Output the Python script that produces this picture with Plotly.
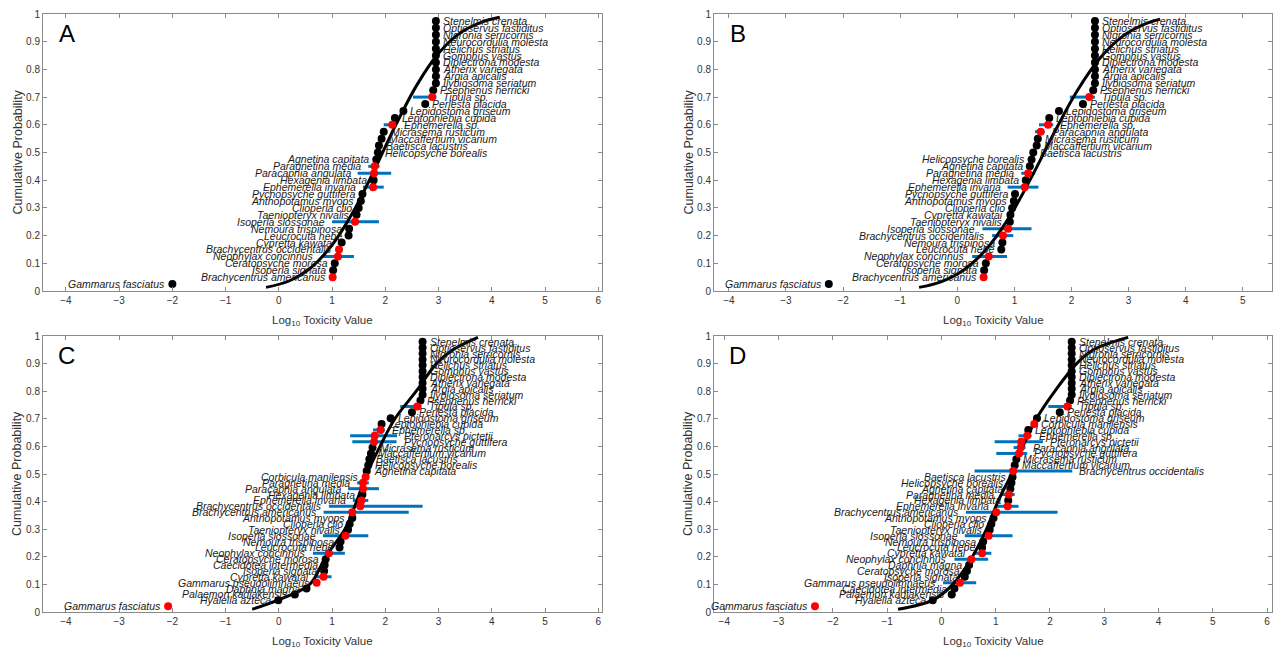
import plotly.graph_objects as go

# ---------------- Panel A ----------------
A_SPECIES = [
    "Gammarus fasciatus", "Brachycentrus americanus", "Isoperla signata", "Ceratopsyche morosa",
    "Neophylax concinnus", "Brachycentrus occidentalis", "Cypretta kawatai", "Leucrocuta hebe",
    "Nemoura trispinosa", "Isoperla slossonae", "Taeniopteryx nivalis", "Clioperla clio",
    "Anthopotamus myops", "Pycnopsyche guttifera", "Ephemerella invaria", "Hexagenia limbata",
    "Paracapnia angulata", "Paragnetina media", "Agnetina capitata", "Helicopsyche borealis",
    "Baetisca lacustris", "Maccaffertium vicarium", "Micrasema rusticum", "Ephemerella sp.",
    "Leptophlebia cupida", "Lepidostoma griseum", "Perlesta placida", "Tipula sp.",
    "Psephenus herricki", "Ilybiosoma seriatum", "Argia apicalis", "Atherix variegata",
    "Diplectrona modesta", "Gomphus vastus", "Helichus striatus", "Neurocordulia molesta",
    "Nigronia serricornis", "Optioservus fastiditus", "Stenelmis crenata",
]
A_LOG_TOX = [
    -2.00, 1.01, 1.02, 1.05, 1.11, 1.13, 1.18, 1.31, 1.32, 1.43, 1.46, 1.50, 1.54, 1.57,
    1.77, 1.78, 1.79, 1.80, 1.83, 1.86, 1.88, 1.93, 1.97, 2.13, 2.18, 2.34, 2.75, 2.88,
    2.90, 2.95, 2.95, 2.95, 2.95, 2.95, 2.95, 2.95, 2.95, 2.95, 2.95,
]
A_RED = ["Brachycentrus americanus", "Neophylax concinnus", "Brachycentrus occidentalis",
         "Isoperla slossonae", "Ephemerella invaria", "Paracapnia angulata",
         "Paragnetina media", "Ephemerella sp.", "Tipula sp."]
A_CI = {
    "Neophylax concinnus": (0.80, 1.41),
    "Isoperla slossonae": (1.00, 1.88),
    "Ephemerella invaria": (1.58, 1.97),
    "Paracapnia angulata": (1.48, 2.11),
    "Paragnetina media": (1.68, 1.89),
    "Ephemerella sp.": (1.97, 2.21),
    "Tipula sp.": (2.52, 2.96),
}
A_FIT_X = [-0.24, 0.2, 0.6, 1.0, 1.4, 1.8, 2.2, 2.6, 3.0, 3.4, 3.8, 4.15]
A_FIT_P = [0.013, 0.037, 0.084, 0.166, 0.287, 0.439, 0.601, 0.746, 0.858, 0.931, 0.970, 0.988]

# ---------------- Panel B ----------------
B_SPECIES = [
    "Gammarus fasciatus", "Brachycentrus americanus", "Isoperla signata", "Ceratopsyche morosa",
    "Neophylax concinnus", "Leucrocuta hebe", "Nemoura trispinosa", "Brachycentrus occidentalis",
    "Isoperla slossonae", "Taeniopteryx nivalis", "Cypretta kawatai", "Clioperla clio",
    "Anthopotamus myops", "Pycnopsyche guttifera", "Ephemerella invaria", "Hexagenia limbata",
    "Paragnetina media", "Agnetina capitata", "Helicopsyche borealis", "Baetisca lacustris",
    "Maccaffertium vicarium", "Micrasema rusticum", "Paracapnia angulata", "Ephemerella sp.",
    "Leptophlebia cupida", "Lepidostoma griseum", "Perlesta placida", "Tipula sp.",
    "Psephenus herricki", "Ilybiosoma seriatum", "Argia apicalis", "Atherix variegata",
    "Diplectrona modesta", "Gomphus vastus", "Helichus striatus", "Neurocordulia molesta",
    "Nigronia serricornis", "Optioservus fastiditus", "Stenelmis crenata",
]
B_LOG_TOX = [
    -2.25, 0.46, 0.47, 0.50, 0.55, 0.77, 0.79, 0.80, 0.89, 0.92, 0.93, 0.96, 0.99, 1.01,
    1.18, 1.20, 1.24, 1.27, 1.30, 1.33, 1.39, 1.41, 1.46, 1.59, 1.61, 1.78, 2.20, 2.31,
    2.38, 2.41, 2.41, 2.41, 2.41, 2.41, 2.41, 2.41, 2.41, 2.41, 2.41,
]
B_RED = ["Brachycentrus americanus", "Neophylax concinnus", "Brachycentrus occidentalis",
         "Isoperla slossonae", "Ephemerella invaria", "Paragnetina media",
         "Paracapnia angulata", "Ephemerella sp.", "Tipula sp."]
B_CI = {
    "Neophylax concinnus": (0.26, 0.87),
    "Brachycentrus occidentalis": (0.61, 0.98),
    "Isoperla slossonae": (0.44, 1.30),
    "Ephemerella invaria": (0.88, 1.42),
    "Paragnetina media": (1.12, 1.36),
    "Paracapnia angulata": (1.36, 1.53),
    "Ephemerella sp.": (1.43, 1.68),
    "Tipula sp.": (1.97, 2.41),
}
B_FIT_X = [-0.67, -0.3, 0.1, 0.5, 0.9, 1.3, 1.7, 2.1, 2.5, 2.9, 3.3, 3.55]
B_FIT_P = [0.013, 0.032, 0.074, 0.149, 0.263, 0.411, 0.573, 0.723, 0.841, 0.920, 0.965, 0.981]

# ---------------- Panel C ----------------
C_SPECIES = [
    "Gammarus fasciatus", "Hyalella azteca", "Palaemon kadiakensis", "Daphnia magna",
    "Gammarus pseudolimnaeus", "Cypretta kawatai", "Isoperla signata", "Caecidotea intermedia",
    "Ceratopsyche morosa", "Neophylax concinnus", "Leucrocuta hebe", "Nemoura trispinosa",
    "Isoperla slossonae", "Taeniopteryx nivalis", "Clioperla clio", "Anthopotamus myops",
    "Brachycentrus americanus", "Brachycentrus occidentalis", "Ephemerella invaria",
    "Hexagenia limbata", "Paracapnia angulata", "Paragnetina media", "Corbicula manilensis",
    "Agnetina capitata", "Helicopsyche borealis", "Baetisca lacustris", "Maccaffertium vicarium",
    "Micrasema rusticum", "Pycnopsyche guttifera", "Pteronarcys pictetii", "Ephemerella sp.",
    "Leptophlebia cupida", "Lepidostoma griseum", "Perlesta placida", "Tipula sp.",
    "Psephenus herricki", "Ilybiosoma seriatum", "Argia apicalis", "Atherix variegata",
    "Diplectrona modesta", "Gomphus vastus", "Helichus striatus", "Neurocordulia molesta",
    "Nigronia serricornis", "Optioservus fastiditus", "Stenelmis crenata",
]
C_LOG_TOX = [
    -2.08, -0.01, 0.30, 0.52, 0.71, 0.84, 0.85, 0.86, 0.88, 0.94, 1.14, 1.16, 1.25, 1.30,
    1.33, 1.38, 1.38, 1.53, 1.55, 1.57, 1.58, 1.58, 1.63, 1.65, 1.68, 1.70, 1.73, 1.76,
    1.79, 1.80, 1.91, 1.93, 2.10, 2.50, 2.60, 2.66,
    2.70, 2.70, 2.70, 2.70, 2.70, 2.70, 2.70, 2.70, 2.70, 2.70,
]
C_RED = ["Gammarus fasciatus", "Gammarus pseudolimnaeus", "Cypretta kawatai",
         "Neophylax concinnus", "Isoperla slossonae", "Brachycentrus americanus",
         "Brachycentrus occidentalis", "Ephemerella invaria", "Paracapnia angulata",
         "Paragnetina media", "Corbicula manilensis", "Pycnopsyche guttifera",
         "Pteronarcys pictetii", "Ephemerella sp.", "Tipula sp."]
C_CI = {
    "Cypretta kawatai": (0.69, 0.99),
    "Neophylax concinnus": (0.64, 1.24),
    "Isoperla slossonae": (0.83, 1.68),
    "Brachycentrus americanus": (0.84, 2.44),
    "Brachycentrus occidentalis": (0.94, 2.70),
    "Ephemerella invaria": (1.39, 1.68),
    "Paracapnia angulata": (1.30, 1.88),
    "Paragnetina media": (1.47, 1.69),
    "Pycnopsyche guttifera": (1.38, 2.21),
    "Pteronarcys pictetii": (1.34, 2.22),
    "Ephemerella sp.": (1.77, 1.99),
    "Tipula sp.": (2.28, 2.68),
}
C_FIT_X = [-0.50, -0.02, 0.58, 0.88, 1.24, 1.46, 1.65, 1.90, 2.18, 2.58, 2.96, 3.27, 3.74]
C_FIT_P = [0.010, 0.043, 0.10, 0.20, 0.30, 0.40, 0.50, 0.60, 0.70, 0.80, 0.90, 0.95, 0.995]

# ---------------- Panel D ----------------
D_SPECIES = [
    "Gammarus fasciatus", "Hyalella azteca", "Palaemon kadiakensis", "Caecidotea intermedia",
    "Gammarus pseudolimnaeus", "Isoperla signata", "Ceratopsyche morosa", "Daphnia magna",
    "Neophylax concinnus", "Cypretta kawatai", "Leucrocuta hebe", "Nemoura trispinosa",
    "Isoperla slossonae", "Taeniopteryx nivalis", "Clioperla clio", "Anthopotamus myops",
    "Brachycentrus americanus", "Ephemerella invaria", "Hexagenia limbata", "Paragnetina media",
    "Agnetina capitata", "Helicopsyche borealis", "Baetisca lacustris",
    "Brachycentrus occidentalis", "Maccaffertium vicarium", "Micrasema rusticum",
    "Pycnopsyche guttifera", "Paracapnia angulata", "Pteronarcys pictetii", "Ephemerella sp.",
    "Leptophlebia cupida", "Corbicula manilensis", "Lepidostoma griseum", "Perlesta placida",
    "Tipula sp.", "Psephenus herricki", "Ilybiosoma seriatum", "Argia apicalis",
    "Atherix variegata", "Diplectrona modesta", "Gomphus vastus", "Helichus striatus",
    "Neurocordulia molesta", "Nigronia serricornis", "Optioservus fastiditus", "Stenelmis crenata",
]
D_LOG_TOX = [
    -2.33, -0.16, 0.19, 0.24, 0.34, 0.43, 0.47, 0.51, 0.55, 0.75, 0.75, 0.77, 0.87, 0.89,
    0.92, 0.96, 1.01, 1.22, 1.23, 1.24, 1.27, 1.29, 1.31, 1.32, 1.35, 1.38, 1.43, 1.46,
    1.47, 1.58, 1.60, 1.71, 1.76, 2.18, 2.32, 2.37,
    2.40, 2.40, 2.40, 2.40, 2.40, 2.40, 2.40, 2.40, 2.40, 2.40,
]
D_RED = ["Gammarus fasciatus", "Gammarus pseudolimnaeus", "Neophylax concinnus",
         "Cypretta kawatai", "Isoperla slossonae", "Brachycentrus americanus",
         "Ephemerella invaria", "Paragnetina media", "Brachycentrus occidentalis",
         "Pycnopsyche guttifera", "Paracapnia angulata", "Pteronarcys pictetii",
         "Ephemerella sp.", "Corbicula manilensis", "Tipula sp."]
D_CI = {
    "Gammarus pseudolimnaeus": (0.03, 0.64),
    "Neophylax concinnus": (0.24, 0.86),
    "Cypretta kawatai": (0.58, 0.92),
    "Isoperla slossonae": (0.43, 1.31),
    "Brachycentrus americanus": (0.45, 2.14),
    "Ephemerella invaria": (1.01, 1.42),
    "Paragnetina media": (1.10, 1.35),
    "Brachycentrus occidentalis": (0.61, 2.41),
    "Pycnopsyche guttifera": (1.01, 1.58),
    "Paracapnia angulata": (1.33, 1.55),
    "Pteronarcys pictetii": (0.98, 1.87),
    "Ephemerella sp.": (1.42, 1.66),
    "Tipula sp.": (1.97, 2.40),
}
D_FIT_X = [-0.80, -0.16, 0.21, 0.57, 0.83, 1.04, 1.29, 1.50, 1.75, 2.09, 2.49, 2.80, 3.44]
D_FIT_P = [0.010, 0.043, 0.10, 0.20, 0.30, 0.40, 0.50, 0.60, 0.70, 0.80, 0.90, 0.95, 0.995]

# ---------------- layout settings ----------------
W, H = 1280, 648
FONT = "Liberation Sans, Arial, Helvetica, sans-serif"
BAR_BLUE = "#0072BD"
AXIS_GREY = "#8a8a8a"

PANELS = [
    # letter, data, x pixel span, y pixel span, x range, number of left-labelled species
    ("A", (A_SPECIES, A_LOG_TOX, A_RED, A_CI, A_FIT_X, A_FIT_P), (43, 602), (14, 291), (-4.43, 6.07), 19),
    ("B", (B_SPECIES, B_LOG_TOX, B_RED, B_CI, B_FIT_X, B_FIT_P), (714, 1272), (14, 291), (-4.26, 5.51), 19),
    ("C", (C_SPECIES, C_LOG_TOX, C_RED, C_CI, C_FIT_X, C_FIT_P), (43, 602), (336, 612), (-4.43, 6.07), 23),
    ("D", (D_SPECIES, D_LOG_TOX, D_RED, D_CI, D_FIT_X, D_FIT_P), (714, 1272), (336, 612), (-4.19, 6.09), 23),
]

fig = go.Figure()
annotations = []
layout_axes = {}

for k, (letter, data, xpx, ypx, xrange_, n_left) in enumerate(PANELS, start=1):
    species, tox, red, ci, fit_x, fit_p = data
    sfx = "" if k == 1 else str(k)
    xref, yref = "x" + sfx, "y" + sfx
    n = len(species)
    prob = [(i + 1) / (n + 1) for i in range(n)]

    # confidence bars
    bx, by = [], []
    for name, (lo, hi) in ci.items():
        p = prob[species.index(name)]
        bx += [lo, hi, None]
        by += [p, p, None]
    fig.add_trace(go.Scatter(x=bx, y=by, mode="lines", xaxis=xref, yaxis=yref,
                             line=dict(color=BAR_BLUE, width=3), hoverinfo="skip",
                             showlegend=False))

    # fitted distribution
    fig.add_trace(go.Scatter(x=fit_x, y=fit_p, mode="lines", xaxis=xref, yaxis=yref,
                             line=dict(color="black", width=3, shape="spline"),
                             hoverinfo="skip", showlegend=False))

    # species points
    blk = [i for i, s in enumerate(species) if s not in red]
    rd = [i for i, s in enumerate(species) if s in red]
    fig.add_trace(go.Scatter(x=[tox[i] for i in blk], y=[prob[i] for i in blk],
                             text=[species[i] for i in blk], mode="markers",
                             xaxis=xref, yaxis=yref, showlegend=False,
                             marker=dict(color="black", size=8)))
    fig.add_trace(go.Scatter(x=[tox[i] for i in rd], y=[prob[i] for i in rd],
                             text=[species[i] for i in rd], mode="markers",
                             xaxis=xref, yaxis=yref, showlegend=False,
                             marker=dict(color="red", size=8)))

    # species labels
    for i, name in enumerate(species):
        lo, hi = ci.get(name, (tox[i], tox[i]))
        if i < n_left:
            ax, anchor, shift = min(lo, tox[i]), "right", -5
        else:
            ax, anchor, shift = max(hi, tox[i]), "left", 5
        annotations.append(dict(
            x=ax, y=prob[i], xref=xref, yref=yref, text=f"<i>{name}</i>",
            showarrow=False, xanchor=anchor, yanchor="middle", xshift=shift,
            font=dict(family=FONT, size=10.5, color="#1a1a1a")))

    # axes
    common = dict(showgrid=False, zeroline=False, showline=True, linecolor=AXIS_GREY,
                  linewidth=1, mirror="ticks", ticks="inside", ticklen=4,
                  tickcolor=AXIS_GREY, automargin=False,
                  tickfont=dict(family=FONT, size=10, color="#333333"))
    layout_axes["xaxis" + sfx] = dict(
        common, domain=[xpx[0] / W, xpx[1] / W], range=list(xrange_), anchor=yref,
        tickvals=list(range(-4, 7)))
    yt = [i / 10 for i in range(11)]
    layout_axes["yaxis" + sfx] = dict(
        common, domain=[1 - ypx[1] / H, 1 - ypx[0] / H], range=[0, 1], anchor=xref,
        tickvals=yt, ticktext=["0"] + [f"{v:.1f}" for v in yt[1:-1]] + ["1"])

    # panel letter and axis titles
    annotations.append(dict(x=(xpx[0] + 23.5) / W, y=1 - (ypx[0] + 19.5) / H, xref="paper",
                            yref="paper", text=letter, showarrow=False, xanchor="center",
                            yanchor="middle", font=dict(family=FONT, size=24, color="black")))
    annotations.append(dict(x=(xpx[0] + xpx[1]) / 2 / W, y=1 - (ypx[1] + 30) / H,
                            xref="paper", yref="paper",
                            text="Log<sub>10</sub> Toxicity Value", showarrow=False,
                            xanchor="center", yanchor="middle",
                            font=dict(family=FONT, size=11.5, color="#333333")))
    annotations.append(dict(x=(xpx[0] - 26) / W, y=1 - (ypx[0] + ypx[1]) / 2 / H,
                            xref="paper", yref="paper", text="Cumulative Probability",
                            textangle=-90, showarrow=False, xanchor="center",
                            yanchor="middle",
                            font=dict(family=FONT, size=12.5, color="#333333")))

fig.update_layout(
    width=W, height=H, autosize=False,
    margin=dict(l=0, r=0, t=0, b=0),
    paper_bgcolor="white", plot_bgcolor="white",
    template="none",
    annotations=annotations,
    **layout_axes,
)

fig.write_html("out.html")
